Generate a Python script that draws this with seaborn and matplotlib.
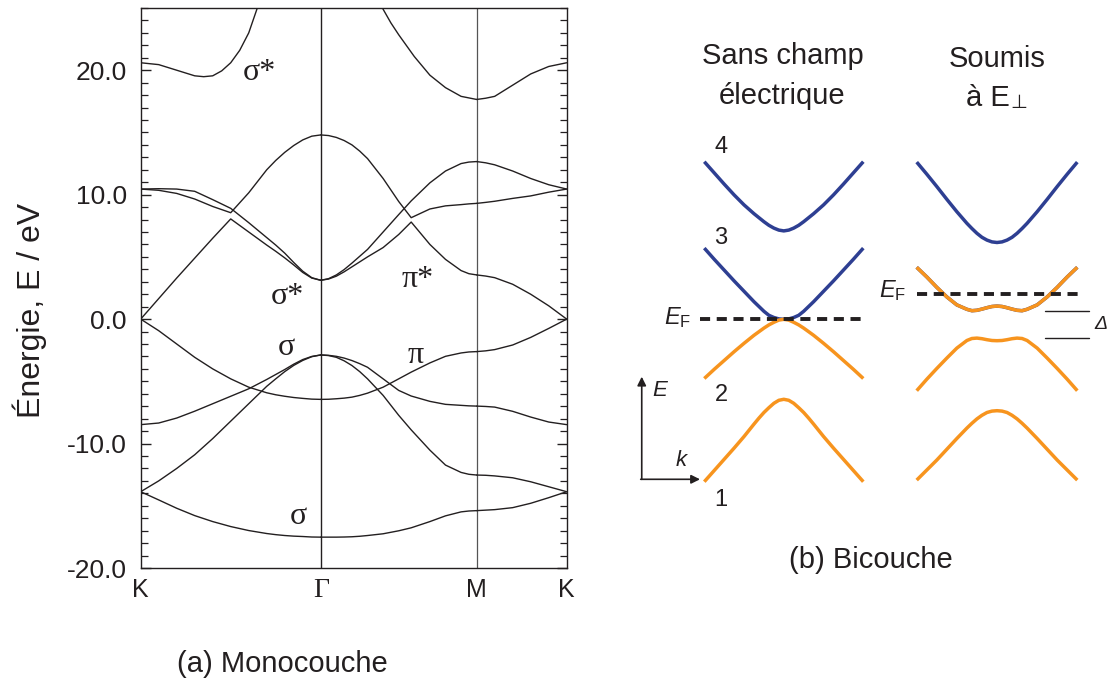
import numpy as np
import pandas as pd
import matplotlib
matplotlib.use("Agg")
import matplotlib.pyplot as plt
from matplotlib.patches import Rectangle
from matplotlib.ticker import MultipleLocator, FormatStrFormatter
import seaborn as sns

sns.set_theme(style="white")
plt.rcParams["font.family"] = ["Liberation Sans", "DejaVu Sans"]
plt.rcParams["mathtext.fontset"] = "custom"
plt.rcParams["mathtext.rm"] = "Liberation Sans"
plt.rcParams["mathtext.it"] = "Liberation Sans:italic"
plt.rcParams["axes.unicode_minus"] = False

INK = "#231f20"
BLUE = "#2e3f92"
ORANGE = "#f7941e"

# ---------------------------------------------------------------------------
# (a) Monolayer graphene band structure along K - Gamma - M - K (energies in eV)
# ---------------------------------------------------------------------------
GAMMA = 1.0
M_PT = 1.0 + np.sqrt(3) / 2
K_END = M_PT + 0.5
SEGMENTS = {"KG": (0.0, GAMMA), "GM": (GAMMA, M_PT), "MK": (M_PT, K_END)}

# fractional positions along each segment of the path
frac_KG = [0, .1, .2, .3, .4, .5, .6, .7, .75, .8, .85, .9, .95, 1.0]
frac_GM = [0, .05, .1, .15, .2, .25, .3, .4, .5, .58, .7, .8, .9, .95, 1.0]
frac_MK = [0, .1, .2, .4, .6, .8, 1.0]

sigma1_KG = [-13.87, -14.53, -15.2, -15.79, -16.27, -16.67, -16.99, -17.23, -17.32,
             -17.39, -17.44, -17.47, -17.51, -17.52]
sigma1_GM = [-17.52, -17.52, -17.52, -17.51, -17.49, -17.45, -17.39, -17.25, -17.01,
             -16.77, -16.27, -15.81, -15.49, -15.42, -15.39]
sigma1_MK = [-15.39, -15.35, -15.31, -15.15, -14.8, -14.35, -13.87]

sigma2_KG = [-13.87, -13.0, -12.0, -10.9, -9.6, -8.2, -6.8, -5.4, -4.8, -4.22,
             -3.72, -3.32, -3.02, -2.88]
sigma2_GM = [-2.88, -2.93, -3.07, -3.35, -3.73, -4.22, -4.8, -6.13, -7.73, -8.9,
             -10.53, -11.73, -12.32, -12.47, -12.53]
sigma2_MK = [-12.53, -12.55, -12.6, -12.75, -13.07, -13.47, -13.87]

sigma3_KG = [-8.48, -8.35, -7.95, -7.4, -6.8, -6.2, -5.6, -4.85, -4.45, -4.05,
             -3.62, -3.25, -3.0, -2.88]
sigma3_GM = [-2.88, -2.91, -2.99, -3.13, -3.33, -3.58, -3.87, -4.8, -5.73, -6.18,
             -6.61, -6.85, -6.93, -6.97, -6.99]
sigma3_MK = [-6.99, -7.02, -7.07, -7.41, -7.87, -8.27, -8.48]

pi_KG = [0.0, -0.93, -2.0, -3.07, -4.0, -4.8, -5.47, -5.92, -6.08, -6.2, -6.3,
         -6.37, -6.43, -6.45]
pi_GM = [-6.45, -6.44, -6.4, -6.35, -6.27, -6.13, -5.95, -5.47, -4.8, -4.26, -3.52,
         -2.99, -2.72, -2.64, -2.61]
pi_MK = [-2.61, -2.55, -2.45, -2.08, -1.47, -0.75, 0.0]

pistar_KG = [0.0, 1.65, 3.3, 4.9, 6.5, 8.05, 7.0, 5.95, 5.45, 4.92, 4.35, 3.75,
             3.3, 3.12]
pistar_GM = [3.12, 3.22, 3.45, 3.8, 4.2, 4.6, 5.0, 5.75, 6.8, 7.8, 6.0, 4.8, 3.9,
             3.65, 3.55]
pistar_MK = [3.55, 3.46, 3.33, 2.8, 2.0, 1.07, 0.0]

sstar_a_KG = [10.45, 10.48, 10.45, 10.27, 9.6, 8.9, 7.75, 6.55, 5.95, 5.3, 4.55,
              3.85, 3.33, 3.12]
sstar_a_GM = [3.12, 3.25, 3.55, 3.98, 4.5, 5.05, 5.6, 7.0, 8.4, 9.5, 10.95, 11.9,
              12.5, 12.62, 12.66]
sstar_a_MK = [12.66, 12.56, 12.4, 11.9, 11.3, 10.8, 10.45]

sstar_b_KG = [10.45, 10.35, 10.1, 9.65, 9.05, 8.55, 10.15, 12.0, 12.75, 13.4, 13.95,
              14.4, 14.7, 14.8]
sstar_b_GM = [14.8, 14.75, 14.6, 14.35, 14.0, 13.5, 12.9, 11.3, 9.45, 8.15, 8.85,
              9.1, 9.2, 9.26, 9.3]
sstar_b_MK = [9.3, 9.38, 9.47, 9.7, 9.9, 10.2, 10.45]

frac_high_KG = [0, .1, .2, .3, .35, .4, .45, .5, .55, .6, .65, .7]
high_KG = [20.6, 20.45, 20.0, 19.55, 19.48, 19.55, 19.95, 20.6, 21.6, 23.0, 25.1, 27.6]
frac_high_GM = [.35, .4, .45, .5, .6, .7, .8, .9, 1.0]
high_GM = [26.2, 24.9, 23.8, 22.85, 21.1, 19.6, 18.6, 17.9, 17.65]
high_MK = [17.65, 17.75, 17.9, 18.8, 19.7, 20.3, 20.6]

TICK_POS = [0.0, GAMMA, M_PT, K_END]
TICK_LABELS = ["K", "Γ", "M", "K"]
Y_TICKS = [-20, -10, 0, 10, 20]

band_labels = [("σ*", 0.658, 19.8), ("σ*", 0.814, 1.85), ("π*", 1.537, 3.2),
               ("σ", 0.808, -2.3), ("π", 1.526, -2.9), ("σ", 0.875, -15.9)]


def segment(name, seg, frac, energy):
    a, b = SEGMENTS[seg]
    k = a + (b - a) * np.asarray(frac, dtype=float)
    return pd.DataFrame({"k": k, "E": energy, "curve": f"{name}_{seg}"})


bands = pd.concat([
    segment("s1", "KG", frac_KG, sigma1_KG), segment("s1", "GM", frac_GM, sigma1_GM),
    segment("s1", "MK", frac_MK, sigma1_MK),
    segment("s2", "KG", frac_KG, sigma2_KG), segment("s2", "GM", frac_GM, sigma2_GM),
    segment("s2", "MK", frac_MK, sigma2_MK),
    segment("s3", "KG", frac_KG, sigma3_KG), segment("s3", "GM", frac_GM, sigma3_GM),
    segment("s3", "MK", frac_MK, sigma3_MK),
    segment("pi", "KG", frac_KG, pi_KG), segment("pi", "GM", frac_GM, pi_GM),
    segment("pi", "MK", frac_MK, pi_MK),
    segment("pis", "KG", frac_KG, pistar_KG), segment("pis", "GM", frac_GM, pistar_GM),
    segment("pis", "MK", frac_MK, pistar_MK),
    segment("sa", "KG", frac_KG, sstar_a_KG), segment("sa", "GM", frac_GM, sstar_a_GM),
    segment("sa", "MK", frac_MK, sstar_a_MK),
    segment("sb", "KG", frac_KG, sstar_b_KG), segment("sb", "GM", frac_GM, sstar_b_GM),
    segment("sb", "MK", frac_MK, sstar_b_MK),
    segment("hi", "KG", frac_high_KG, high_KG), segment("hi", "GM", frac_high_GM, high_GM),
    segment("hi", "MK", frac_MK, high_MK),
], ignore_index=True)

W, H = 1117, 686
fig = plt.figure(figsize=(W / 100, H / 100), dpi=100)
fig.patch.set_facecolor("white")


def fx(px):
    return px / W


def fy(py):
    return 1 - py / H


ax = fig.add_axes([fx(140.7), fy(568), 426 / W, 560 / H])
sns.lineplot(data=bands, x="k", y="E", units="curve", estimator=None, sort=False,
             color=INK, linewidth=1.0, ax=ax, legend=False)
ax.axvline(GAMMA, color=INK, lw=1.0, zorder=1)
ax.axvline(M_PT, color="#555555", lw=0.9, zorder=1)

ax.set_xlim(0, K_END)
ax.set_ylim(-20, 25)
ax.set_xlabel("")
ax.set_ylabel("")
ax.set_xticks(TICK_POS)
ax.set_xticklabels(TICK_LABELS)
ax.tick_params(axis="x", length=0, pad=7, labelsize=18, colors=INK)
gamma_label = ax.get_xticklabels()[1]
gamma_label.set_fontfamily(["Liberation Serif", "DejaVu Serif"])
gamma_label.set_fontsize(20)
ax.set_yticks(Y_TICKS)
ax.yaxis.set_major_formatter(FormatStrFormatter("%.1f"))
ax.yaxis.set_minor_locator(MultipleLocator(1))
ax.tick_params(axis="y", which="both", direction="in", left=True, right=True,
               colors=INK, labelsize=19, pad=10)
ax.tick_params(axis="y", which="major", length=7, width=1.0)
ax.tick_params(axis="y", which="minor", length=5, width=0.9)
for sp in ax.spines.values():
    sp.set_color(INK)
    sp.set_linewidth(1.0)
    sp.set_visible(True)
ax.grid(False)

for txt, kx, ey in band_labels:
    ax.text(kx, ey, txt, ha="center", va="center", fontsize=23, color=INK,
            family=["Liberation Serif", "DejaVu Serif"])

fig.text(fx(30), fy(310), "Énergie, E / eV", rotation=90, ha="center", va="center",
         fontsize=23, color=INK)
fig.text(fx(282), fy(664), "(a) Monocouche", ha="center", va="center",
         fontsize=21, color=INK)

# ---------------------------------------------------------------------------
# (b) Bilayer: low-energy bands without and with a perpendicular field
# ---------------------------------------------------------------------------
k_schema = [-1, -.875, -.75, -.625, -.5, -.375, -.3125, -.25, -.1875, -.125, -.0625, 0,
            .0625, .125, .1875, .25, .3125, .375, .5, .625, .75, .875, 1]

band4_free = [3.94, 3.66, 3.38, 3.11, 2.86, 2.64, 2.54, 2.44, 2.35, 2.28, 2.23, 2.21,
              2.23, 2.28, 2.35, 2.44, 2.54, 2.64, 2.86, 3.11, 3.38, 3.66, 3.94]
band3_free = [1.78, 1.5, 1.23, 0.96, 0.7, 0.44, 0.32, 0.2, 0.1, 0.045, 0.01, 0.0,
              0.01, 0.045, 0.1, 0.2, 0.32, 0.44, 0.7, 0.96, 1.23, 1.5, 1.78]
band2_free = [-1.48, -1.25, -1.03, -0.81, -0.6, -0.4, -0.31, -0.22, -0.14, -0.075, -0.02, 0.0,
              -0.02, -0.075, -0.14, -0.22, -0.31, -0.4, -0.6, -0.81, -1.03, -1.25, -1.48]
band1_free = [-4.06, -3.78, -3.5, -3.22, -2.93, -2.62, -2.47, -2.33, -2.21, -2.1, -2.025, -2.0,
              -2.025, -2.1, -2.21, -2.33, -2.47, -2.62, -2.93, -3.22, -3.5, -3.78, -4.06]
EF_free = 0.0

band4_field = [3.93, 3.63, 3.32, 3.0, 2.69, 2.4, 2.27, 2.15, 2.05, 1.98, 1.935, 1.92,
               1.935, 1.98, 2.05, 2.15, 2.27, 2.4, 2.69, 3.0, 3.32, 3.63, 3.93]
band3_field = [1.3, 1.06, 0.8, 0.56, 0.36, 0.25, 0.215, 0.225, 0.255, 0.29, 0.32, 0.33,
               0.32, 0.29, 0.255, 0.225, 0.215, 0.25, 0.36, 0.56, 0.8, 1.06, 1.3]
band2_field = [-1.785, -1.5, -1.23, -0.97, -0.72, -0.53, -0.48, -0.47, -0.485, -0.51, -0.53,
               -0.535, -0.53, -0.51, -0.485, -0.47, -0.48, -0.53, -0.72, -0.97, -1.23, -1.5,
               -1.785]
band1_field = [-4.02, -3.77, -3.52, -3.25, -2.98, -2.72, -2.6, -2.49, -2.4, -2.33, -2.295,
               -2.285, -2.295, -2.33, -2.4, -2.49, -2.6, -2.72, -2.98, -3.25, -3.52, -3.77,
               -4.02]
EF_field = 0.63

E_RANGE = (-4.5, 4.5)
PX_PER_E = 40.0
EF_PX = 319.3
top_px = EF_PX - E_RANGE[1] * PX_PER_E
ax_h = (E_RANGE[1] - E_RANGE[0]) * PX_PER_E

ax1 = fig.add_axes([fx(704.3), fy(top_px + ax_h), 159.0 / W, ax_h / H])
ax2 = fig.add_axes([fx(916.7), fy(top_px + ax_h), 160.6 / W, ax_h / H])
for a in (ax1, ax2):
    a.set_xlim(-1, 1)
    a.set_ylim(*E_RANGE)
    a.axis("off")


def draw_band(a, energy, color, clip_below=None, clip_above=None):
    df = pd.DataFrame({"k": k_schema, "E": energy})
    n0 = len(a.lines)
    sns.lineplot(data=df, x="k", y="E", estimator=None, sort=False, color=color,
                 linewidth=2.5, ax=a, legend=False)
    line = a.lines[n0]
    line.set_solid_capstyle("butt")
    line.set_solid_joinstyle("round")
    line.set_clip_on(False)
    if clip_below is not None:
        rect = Rectangle((-3, -10), 6, clip_below + 10, transform=a.transData)
        line.set_clip_path(rect)
    if clip_above is not None:
        rect = Rectangle((-3, clip_above), 6, 20, transform=a.transData)
        line.set_clip_path(rect)


draw_band(ax1, band4_free, BLUE)
draw_band(ax1, band3_free, BLUE)
draw_band(ax1, band2_free, ORANGE)
draw_band(ax1, band1_free, ORANGE)

draw_band(ax2, band4_field, BLUE)
draw_band(ax2, band3_field, BLUE, clip_above=EF_field)
draw_band(ax2, band3_field, ORANGE, clip_below=EF_field)
draw_band(ax2, band2_field, ORANGE)
draw_band(ax2, band1_field, ORANGE)

ax1.plot([-1.054, 1.02], [EF_free, EF_free], color=INK, lw=2.8, dashes=(2.6, 1.7),
         dash_capstyle="butt", clip_on=False, zorder=5)
ax2.plot([-1.0, 1.035], [EF_field, EF_field], color=INK, lw=2.8, dashes=(2.6, 1.7),
         dash_capstyle="butt", clip_on=False, zorder=5)

# gap markers between the two middle bands
gap_top = min(band3_field)
gap_bot = max(band2_field)
for e in (gap_top, gap_bot):
    ax2.plot([0.6, 1.15], [e, e], color=INK, lw=1.0, clip_on=False)
ax2.text(1.3, (gap_top + gap_bot) / 2, "Δ", fontsize=14, style="italic",
         ha="center", va="center", color=INK)

# E-k axes sketch
arrow_kw = dict(arrowstyle="-|>", lw=1.2, color=INK, mutation_scale=13,
                shrinkA=0, shrinkB=0)
ax1.annotate("", xy=(-1.787, -1.435), xytext=(-1.787, -4.0), arrowprops=arrow_kw,
             annotation_clip=False)
ax1.annotate("", xy=(-1.054, -4.0), xytext=(-1.80, -4.0), arrowprops=arrow_kw,
             annotation_clip=False)
fig.text(fx(660), fy(390), "E", fontsize=16, style="italic", ha="center", va="center",
         color=INK)
fig.text(fx(681), fy(460), "k", fontsize=16, style="italic", ha="center", va="center",
         color=INK)

fig.text(fx(691), fy(324.5), r"$E_{\mathrm{F}}$", fontsize=17, ha="right",
         va="baseline", color=INK)
fig.text(fx(906), fy(297.5), r"$E_{\mathrm{F}}$", fontsize=17, ha="right",
         va="baseline", color=INK)

for num, py in (("4", 147), ("3", 238), ("2", 395), ("1", 500)):
    fig.text(fx(721), fy(py), num, fontsize=17, ha="center", va="center", color=INK)

fig.text(fx(782.5), fy(64.5), "Sans champ", fontsize=21, ha="center", va="baseline",
         color=INK)
fig.text(fx(782), fy(104), "électrique", fontsize=21, ha="center", va="baseline",
         color=INK)
fig.text(fx(997.5), fy(67), "Soumis", fontsize=21, ha="center", va="baseline",
         color=INK)
fig.text(fx(1010), fy(106.5), "à E", fontsize=21, ha="right", va="baseline", color=INK)
fig.text(fx(1010.5), fy(107.5), "⊥", fontsize=14, ha="left", va="baseline", color=INK,
         family=["DejaVu Sans"])
fig.text(fx(871), fy(560), "(b) Bicouche", fontsize=21, ha="center", va="center",
         color=INK)

fig.savefig("out.png", dpi=100, facecolor="white")
